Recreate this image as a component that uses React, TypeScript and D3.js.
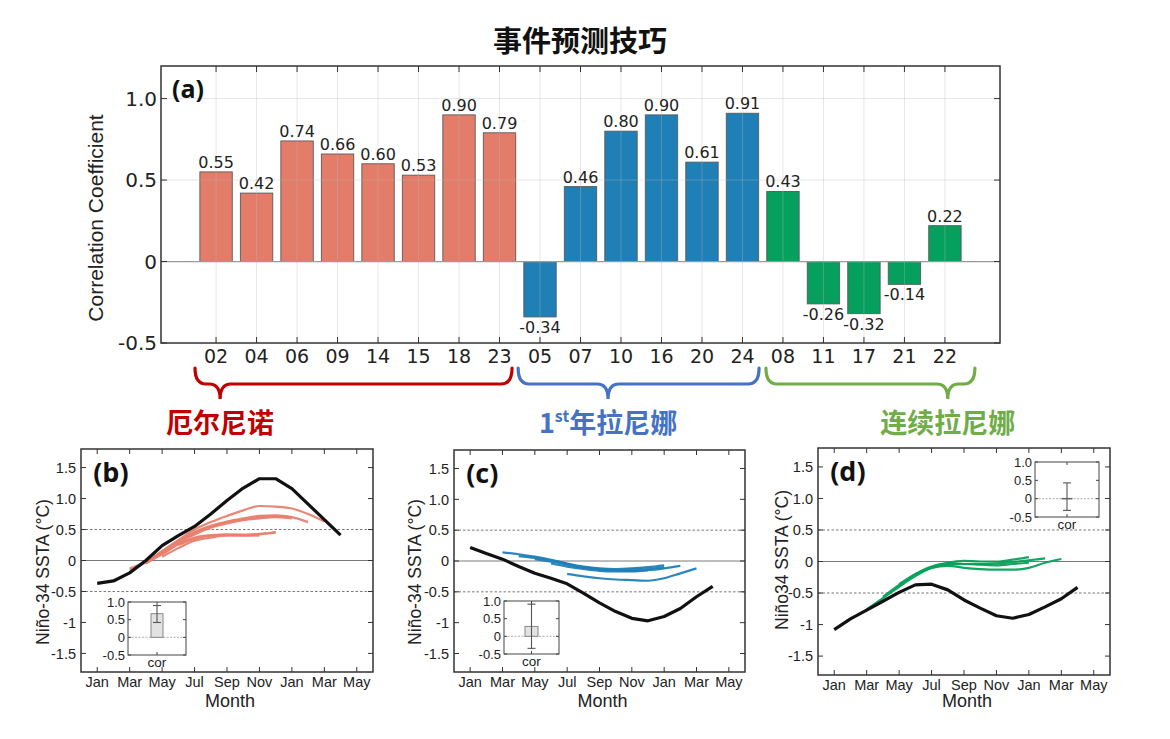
import { useEffect, useRef } from "react";
import * as d3 from "d3";

// ---- panel (a) data ----
const categories = ["02", "04", "06", "09", "14", "15", "18", "23", "05", "07", "10", "16", "20", "24", "08", "11", "17", "21", "22"];
const corrValues = [0.55, 0.42, 0.74, 0.66, 0.6, 0.53, 0.9, 0.79, -0.34, 0.46, 0.8, 0.9, 0.61, 0.91, 0.43, -0.26, -0.32, -0.14, 0.22];
const categoryGroup = [0, 0, 0, 0, 0, 0, 0, 0, 1, 1, 1, 1, 1, 1, 2, 2, 2, 2, 2];
const corrTicks = [-0.5, 0, 0.5, 1.0];
const corrTickLabels = ["-0.5", "0", "0.5", "1.0"];

const groupBarColors = ["#e47c6a", "#1f7fb7", "#05a05d"];
const groupTextColors = ["#c00000", "#4472c4", "#70ad47"];

// ---- panels (b)-(d) data ----
const monthTickIdx = [0, 2, 4, 6, 8, 10, 12, 14, 16];
const monthTickLabels = ["Jan", "Mar", "May", "Jul", "Sep", "Nov", "Jan", "Mar", "May"];
const sstaTicks = [-1.5, -1, -0.5, 0, 0.5, 1, 1.5];
const sstaTickLabels = ["-1.5", "-1", "-0.5", "0", "0.5", "1.0", "1.5"];
const insetTicks = [-0.5, 0, 0.5, 1.0];
const insetTickLabels = ["-0.5", "0", "0.5", "1.0"];

// observed composites, Jan (0) .. Apr of next year (15)
const elNinoObs = [-0.37, -0.33, -0.2, 0.0, 0.24, 0.4, 0.55, 0.75, 0.97, 1.17, 1.32, 1.32, 1.16, 0.91, 0.66, 0.41];
const laNina1Obs = [0.22, 0.12, 0.03, -0.09, -0.2, -0.28, -0.37, -0.52, -0.68, -0.82, -0.93, -0.97, -0.9, -0.77, -0.58, -0.41];
const laNina2Obs = [-1.08, -0.91, -0.77, -0.63, -0.49, -0.37, -0.36, -0.45, -0.61, -0.74, -0.86, -0.9, -0.84, -0.72, -0.59, -0.41];

// forecasts: start month + values
const elNinoStarts = [2, 2, 3, 4, 3, 4, 5];
const elNinoRuns = [
  [-0.15, -0.03, 0.15, 0.33, 0.5, 0.62, 0.72, 0.81, 0.88, 0.87, 0.84, 0.75, 0.63],
  [-0.13, -0.02, 0.15, 0.32, 0.46, 0.56, 0.63, 0.68, 0.72, 0.73, 0.7, 0.62],
  [-0.05, 0.12, 0.3, 0.44, 0.55, 0.62, 0.67, 0.7, 0.71, 0.7],
  [0.1, 0.28, 0.42, 0.53, 0.6, 0.65, 0.68, 0.7, 0.68],
  [-0.04, 0.1, 0.26, 0.37, 0.41, 0.42, 0.42, 0.43, 0.45],
  [0.06, 0.2, 0.32, 0.37, 0.4, 0.4, 0.42, 0.46],
  [0.25, 0.35, 0.4, 0.42, 0.41, 0.4],
];
const laNina1Starts = [2, 3, 4, 5, 6];
const laNina1Runs = [
  [0.14, 0.11, 0.07, 0.02, -0.04, -0.09, -0.12, -0.13, -0.12, -0.1, -0.07],
  [0.08, 0.05, 0.01, -0.05, -0.1, -0.13, -0.15, -0.16, -0.15, -0.12, -0.08],
  [0.03, -0.01, -0.06, -0.11, -0.14, -0.15, -0.14, -0.13, -0.1],
  [-0.04, -0.09, -0.13, -0.16, -0.17, -0.17, -0.15],
  [-0.21, -0.25, -0.28, -0.3, -0.31, -0.32, -0.28, -0.2, -0.12],
];
const laNina2Starts = [2, 3, 4, 5];
const laNina2Runs = [
  [-0.76, -0.58, -0.4, -0.23, -0.1, -0.02, 0.01, 0.0, 0.0, 0.03, 0.07],
  [-0.56, -0.37, -0.2, -0.08, -0.03, -0.04, -0.04, -0.03, -0.01, 0.02, 0.05],
  [-0.36, -0.2, -0.1, -0.07, -0.1, -0.12, -0.13, -0.13, -0.1, -0.02, 0.04],
  [-0.2, -0.1, -0.05, -0.04, -0.05, -0.06, -0.04, -0.02],
];

// inset "cor" summary (bar, min, max)
const insetMeans = [0.67, 0.28, 0.0];
const insetLows = [0.42, -0.34, -0.32];
const insetHighs = [0.9, 0.91, 0.43];

const SANS = "'Liberation Sans', Arial, sans-serif";
const DEJAVU = "'DejaVu Sans', sans-serif";
const CJK = "'Noto Sans CJK SC', sans-serif";

type Sel = d3.Selection<SVGGElement, unknown, null, undefined>;

interface PanelCfg {
  label: string;
  left: number;
  right: number;
  top: number;
  bottom: number;
  obs: number[];
  starts: number[];
  runs: number[][];
  color: string;
  ylabel: string;
  ylabelX: number;
  ylabelY: number;
  inset: { left: number; right: number; top: number; bottom: number; barW: number };
  k: number;
}

const panels: PanelCfg[] = [
  {
    label: "(b)", left: 81, right: 373, top: 449, bottom: 672,
    obs: elNinoObs, starts: elNinoStarts, runs: elNinoRuns, color: "#e8806e",
    ylabel: "Niño-34 SSTA (°C)", ylabelX: 43, ylabelY: 572,
    inset: { left: 128, right: 186, top: 602, bottom: 655, barW: 12 }, k: 0,
  },
  {
    label: "(c)", left: 454, right: 745, top: 450, bottom: 672,
    obs: laNina1Obs, starts: laNina1Starts, runs: laNina1Runs, color: "#1f80b8",
    ylabel: "Niño-34 SSTA (°C)", ylabelX: 415, ylabelY: 572,
    inset: { left: 504, right: 559, top: 601, bottom: 654, barW: 13 }, k: 1,
  },
  {
    label: "(d)", left: 818, right: 1110, top: 448, bottom: 675,
    obs: laNina2Obs, starts: laNina2Starts, runs: laNina2Runs, color: "#06a15a",
    ylabel: "Niño34 SSTA (°C)", ylabelX: 782, ylabelY: 560,
    inset: { left: 1035, right: 1099, top: 462, bottom: 517, barW: 11 }, k: 2,
  },
];

const fmt2 = (v: number) => v.toFixed(2);

function drawBars(g: Sel) {
  const box = { left: 161, right: 1000, top: 66, bottom: 343 };
  const n = categories.length;
  const x = d3.scaleLinear().domain([-1.36, n - 1 + 1.36]).range([box.left, box.right]);
  const y = d3.scaleLinear().domain([-0.5, 1.2]).range([box.bottom, box.top]);
  const step = x(1) - x(0);
  const bw = step * 0.8;
  const idx = d3.range(n);

  // bars
  g.selectAll("rect.bar")
    .data(idx)
    .join("rect")
    .attr("class", "bar")
    .attr("x", (i) => x(i) - bw / 2)
    .attr("y", (i) => y(Math.max(0, corrValues[i])))
    .attr("width", bw)
    .attr("height", (i) => Math.abs(y(corrValues[i]) - y(0)))
    .attr("fill", (i) => groupBarColors[categoryGroup[i]])
    .attr("stroke", "#5a5a5a")
    .attr("stroke-width", 0.9);

  // grid (sits over the bars, faint)
  g.selectAll("line.vgrid")
    .data(idx)
    .join("line")
    .attr("x1", (i) => x(i))
    .attr("x2", (i) => x(i))
    .attr("y1", box.top)
    .attr("y2", box.bottom)
    .attr("stroke", "#b8b8b8")
    .attr("stroke-opacity", 0.35);
  g.selectAll("line.hgrid")
    .data([0.5, 1.0])
    .join("line")
    .attr("x1", box.left)
    .attr("x2", box.right)
    .attr("y1", (d) => y(d))
    .attr("y2", (d) => y(d))
    .attr("stroke", "#b8b8b8")
    .attr("stroke-opacity", 0.35);

  g.append("line")
    .attr("x1", box.left)
    .attr("x2", box.right)
    .attr("y1", y(0))
    .attr("y2", y(0))
    .attr("stroke", "#9a9a9a")
    .attr("stroke-width", 1.2);

  // value labels
  g.selectAll("text.val")
    .data(idx)
    .join("text")
    .attr("x", (i) => x(i))
    .attr("y", (i) => (corrValues[i] >= 0 ? y(corrValues[i]) - 4 : y(corrValues[i]) + 16))
    .attr("text-anchor", "middle")
    .style("font-family", DEJAVU)
    .style("font-size", "16px")
    .style("fill", "#222")
    .text((i) => fmt2(corrValues[i]));

  // frame + inward ticks
  g.append("rect")
    .attr("x", box.left)
    .attr("y", box.top)
    .attr("width", box.right - box.left)
    .attr("height", box.bottom - box.top)
    .attr("fill", "none")
    .attr("stroke", "#333")
    .attr("stroke-width", 1.5);

  idx.forEach((i) => {
    g.append("line").attr("x1", x(i)).attr("x2", x(i)).attr("y1", box.bottom).attr("y2", box.bottom - 6).attr("stroke", "#333");
    g.append("line").attr("x1", x(i)).attr("x2", x(i)).attr("y1", box.top).attr("y2", box.top + 6).attr("stroke", "#333");
  });
  corrTicks.forEach((t) => {
    g.append("line").attr("x1", box.left).attr("x2", box.left + 6).attr("y1", y(t)).attr("y2", y(t)).attr("stroke", "#333");
    g.append("line").attr("x1", box.right).attr("x2", box.right - 6).attr("y1", y(t)).attr("y2", y(t)).attr("stroke", "#333");
  });

  g.selectAll("text.xt")
    .data(idx)
    .join("text")
    .attr("x", (i) => x(i))
    .attr("y", box.bottom + 20)
    .attr("text-anchor", "middle")
    .style("font-family", DEJAVU)
    .style("font-size", "19px")
    .style("fill", "#222")
    .text((i) => categories[i]);

  g.selectAll("text.yt")
    .data(corrTicks)
    .join("text")
    .attr("x", box.left - 4)
    .attr("y", (d) => y(d))
    .attr("dy", "0.36em")
    .attr("text-anchor", "end")
    .style("font-family", DEJAVU)
    .style("font-size", "20px")
    .style("fill", "#222")
    .text((d, i) => corrTickLabels[i]);

  g.append("text")
    .attr("transform", `translate(96, 218) rotate(-90)`)
    .attr("text-anchor", "middle")
    .attr("dy", "0.35em")
    .style("font-family", SANS)
    .style("font-size", "21px")
    .style("fill", "#222")
    .text("Correlation Coefficient");

  g.append("text")
    .attr("x", box.left + 11)
    .attr("y", 98)
    .style("font-family", "'Open Sans', sans-serif")
    .style("font-weight", "bold")
    .style("font-size", "25px")
    .style("fill", "#111")
    .text("(a)");

  // braces below the axis
  const braceSpans = [
    { from: -0.52, to: 7.31, tip: 0.1 },
    { from: 7.46, to: 13.41, tip: 9.68 },
    { from: 13.58, to: 18.74, tip: 18.07 },
  ];
  const yTop = 368;
  const yMid = 384;
  const yBot = 399;
  const r = 11;
  braceSpans.forEach((s, k) => {
    const x1 = x(s.from);
    const x2 = x(s.to);
    const xp = x(s.tip);
    const rl = Math.min(r, (xp - x1) / 2);
    const rr = Math.min(r, (x2 - xp) / 2);
    const p = d3.path();
    p.moveTo(x1, yTop);
    p.quadraticCurveTo(x1, yMid, x1 + rl, yMid);
    p.lineTo(xp - rl, yMid);
    p.quadraticCurveTo(xp, yMid, xp, yBot);
    p.quadraticCurveTo(xp, yMid, xp + rr, yMid);
    p.lineTo(x2 - rr, yMid);
    p.quadraticCurveTo(x2, yMid, x2, yTop);
    g.append("path")
      .attr("d", p.toString())
      .attr("fill", "none")
      .attr("stroke", groupTextColors[k])
      .attr("stroke-width", 3.2)
      .attr("stroke-linecap", "round");

    const t = g
      .append("text")
      .attr("x", xp)
      .attr("y", 433)
      .attr("text-anchor", "middle")
      .style("font-family", CJK)
      .style("font-weight", "bold")
      .style("font-size", "27px")
      .style("fill", groupTextColors[k]);
    if (k === 0) t.text("厄尔尼诺");
    if (k === 1) {
      t.append("tspan").text("1");
      t.append("tspan").attr("dy", -11).style("font-size", "16px").text("st");
      t.append("tspan").attr("dy", 11).text("年拉尼娜");
    }
    if (k === 2) t.text("连续拉尼娜");
  });
}

function drawPanel(g: Sel, p: PanelCfg) {
  const x = d3.scaleLinear().domain([-1, 17]).range([p.left, p.right]);
  const y = d3.scaleLinear().domain([-1.8, 1.8]).range([p.bottom, p.top]);
  const stroke = "#333";

  // reference lines
  g.append("line").attr("x1", p.left).attr("x2", p.right).attr("y1", y(0)).attr("y2", y(0)).attr("stroke", "#7a7a7a").attr("stroke-width", 1);
  [-0.5, 0.5].forEach((v) => {
    g.append("line")
      .attr("x1", p.left)
      .attr("x2", p.right)
      .attr("y1", y(v))
      .attr("y2", y(v))
      .attr("stroke", "#555")
      .attr("stroke-width", 0.8)
      .attr("stroke-dasharray", "2.5,2");
  });

  const line = d3
    .line<[number, number]>()
    .x((d) => x(d[0]))
    .y((d) => y(d[1]));

  // forecasts
  p.runs.forEach((run, j) => {
    const pts = run.map((v, i) => [p.starts[j] + i, v] as [number, number]);
    g.append("path")
      .attr("d", line.curve(d3.curveMonotoneX)(pts))
      .attr("fill", "none")
      .attr("stroke", p.color)
      .attr("stroke-width", 2.2)
      .attr("stroke-opacity", 0.95);
  });

  // observation
  g.append("path")
    .attr("d", line.curve(d3.curveLinear)(p.obs.map((v, i) => [i, v] as [number, number])))
    .attr("fill", "none")
    .attr("stroke", "#111")
    .attr("stroke-width", 3.2)
    .attr("stroke-linejoin", "round");

  // frame + ticks
  g.append("rect")
    .attr("x", p.left)
    .attr("y", p.top)
    .attr("width", p.right - p.left)
    .attr("height", p.bottom - p.top)
    .attr("fill", "none")
    .attr("stroke", stroke)
    .attr("stroke-width", 1.5);
  monthTickIdx.forEach((m) => {
    g.append("line").attr("x1", x(m)).attr("x2", x(m)).attr("y1", p.bottom).attr("y2", p.bottom - 5).attr("stroke", stroke);
    g.append("line").attr("x1", x(m)).attr("x2", x(m)).attr("y1", p.top).attr("y2", p.top + 5).attr("stroke", stroke);
  });
  sstaTicks.forEach((t) => {
    g.append("line").attr("x1", p.left).attr("x2", p.left + 5).attr("y1", y(t)).attr("y2", y(t)).attr("stroke", stroke);
    g.append("line").attr("x1", p.right).attr("x2", p.right - 5).attr("y1", y(t)).attr("y2", y(t)).attr("stroke", stroke);
  });

  g.selectAll(null)
    .data(monthTickIdx)
    .join("text")
    .attr("x", (m) => x(m))
    .attr("y", p.bottom + 15)
    .attr("text-anchor", "middle")
    .style("font-family", SANS)
    .style("font-size", "14.5px")
    .style("fill", "#222")
    .text((m, i) => monthTickLabels[i]);

  g.selectAll(null)
    .data(sstaTicks)
    .join("text")
    .attr("x", p.left - 5)
    .attr("y", (t) => y(t))
    .attr("dy", "0.36em")
    .attr("text-anchor", "end")
    .style("font-family", SANS)
    .style("font-size", "14.5px")
    .style("fill", "#222")
    .text((t, i) => sstaTickLabels[i]);

  g.append("text")
    .attr("x", (p.left + p.right) / 2 + 3)
    .attr("y", 707)
    .attr("text-anchor", "middle")
    .style("font-family", SANS)
    .style("font-size", "18px")
    .style("fill", "#222")
    .text("Month");

  g.append("text")
    .attr("transform", `translate(${p.ylabelX}, ${p.ylabelY}) rotate(-90)`)
    .attr("text-anchor", "middle")
    .attr("dy", "0.35em")
    .style("font-family", SANS)
    .style("font-size", "17.5px")
    .style("fill", "#222")
    .text(p.ylabel);

  g.append("text")
    .attr("x", x(-0.25))
    .attr("y", p.top + 33)
    .style("font-family", "'Open Sans', sans-serif")
    .style("font-weight", "bold")
    .style("font-size", "27px")
    .style("fill", "#111")
    .text(p.label);

  // inset
  const ins = p.inset;
  const iy = d3.scaleLinear().domain([-0.5, 1.0]).range([ins.bottom, ins.top]);
  const cx = (ins.left + ins.right) / 2;
  const mean = insetMeans[p.k];
  const lo = insetLows[p.k];
  const hi = insetHighs[p.k];
  g.append("rect")
    .attr("x", ins.left)
    .attr("y", ins.top)
    .attr("width", ins.right - ins.left)
    .attr("height", ins.bottom - ins.top)
    .attr("fill", "#fff")
    .attr("stroke", "#444")
    .attr("stroke-width", 1);
  g.append("line")
    .attr("x1", ins.left)
    .attr("x2", ins.right)
    .attr("y1", iy(0))
    .attr("y2", iy(0))
    .attr("stroke", "#999")
    .attr("stroke-width", 0.8)
    .attr("stroke-dasharray", "2,1.5");
  if (mean !== 0) {
    g.append("rect")
      .attr("x", cx - ins.barW / 2)
      .attr("y", iy(Math.max(0, mean)))
      .attr("width", ins.barW)
      .attr("height", Math.abs(iy(mean) - iy(0)))
      .attr("fill", "#e2e2e2")
      .attr("stroke", "#888")
      .attr("stroke-width", 1);
  } else {
    g.append("line")
      .attr("x1", cx - ins.barW / 2)
      .attr("x2", cx + ins.barW / 2)
      .attr("y1", iy(mean))
      .attr("y2", iy(mean))
      .attr("stroke", "#666")
      .attr("stroke-width", 1.5);
  }
  g.append("line").attr("x1", cx).attr("x2", cx).attr("y1", iy(lo)).attr("y2", iy(hi)).attr("stroke", "#555").attr("stroke-width", 1.1);
  [lo, hi].forEach((v) => {
    g.append("line").attr("x1", cx - 4).attr("x2", cx + 4).attr("y1", iy(v)).attr("y2", iy(v)).attr("stroke", "#555").attr("stroke-width", 1.1);
  });
  insetTicks.forEach((t) => {
    g.append("line").attr("x1", ins.left).attr("x2", ins.left + 3).attr("y1", iy(t)).attr("y2", iy(t)).attr("stroke", "#444");
    g.append("line").attr("x1", ins.right).attr("x2", ins.right - 3).attr("y1", iy(t)).attr("y2", iy(t)).attr("stroke", "#444");
  });
  g.append("line").attr("x1", cx).attr("x2", cx).attr("y1", ins.top).attr("y2", ins.top + 3).attr("stroke", "#444");
  g.append("line").attr("x1", cx).attr("x2", cx).attr("y1", ins.bottom).attr("y2", ins.bottom - 3).attr("stroke", "#444");
  g.selectAll(null)
    .data(insetTicks)
    .join("text")
    .attr("x", ins.left - 3)
    .attr("y", (t) => iy(t))
    .attr("dy", "0.36em")
    .attr("text-anchor", "end")
    .style("font-family", SANS)
    .style("font-size", "13px")
    .style("fill", "#222")
    .text((t, i) => insetTickLabels[i]);
  g.append("text")
    .attr("x", cx)
    .attr("y", ins.bottom + 12)
    .attr("text-anchor", "middle")
    .style("font-family", SANS)
    .style("font-size", "13.5px")
    .style("fill", "#222")
    .text("cor");
}

export default function App() {
  const svgRef = useRef<SVGSVGElement>(null);

  useEffect(() => {
    if (!svgRef.current) return;
    const svg = d3.select(svgRef.current);
    svg.selectAll("*").remove();

    svg
      .append("text")
      .attr("x", 580)
      .attr("y", 52)
      .attr("text-anchor", "middle")
      .style("font-family", CJK)
      .style("font-weight", "bold")
      .style("font-size", "29px")
      .style("fill", "#111")
      .text("事件预测技巧");

    drawBars(svg.append("g") as unknown as Sel);
    panels.forEach((p) => drawPanel(svg.append("g") as unknown as Sel, p));
  }, []);

  return (
    <div style={{ position: "absolute", left: 0, top: 0 }}>
      <svg ref={svgRef} width={1170} height={739} style={{ display: "block", background: "#fff" }} />
    </div>
  );
}
